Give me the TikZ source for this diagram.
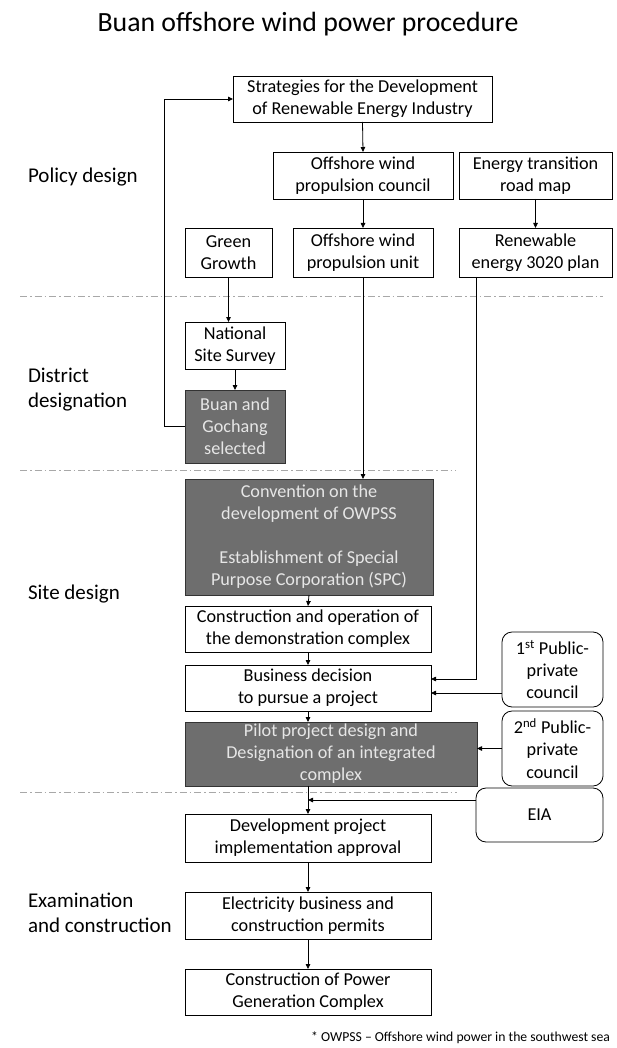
\documentclass[tikz,border=0pt]{standalone}
\usepackage{fontspec}
\setmainfont{Carlito}
\usetikzlibrary{arrows.meta,positioning}
\definecolor{boxgray}{HTML}{6E6E6E}
\definecolor{boxtext}{HTML}{E6E6E6}
\definecolor{sepgray}{HTML}{A8A8A8}
\tikzset{
  every node/.style={inner sep=0pt, outer sep=0pt},
  plainbox/.style={draw=black, line width=0.8pt, fill=white, align=center,
    font=\fontsize{18.2}{22}\selectfont},
  darkbox/.style={plainbox, fill=boxgray, draw=black!80, text=boxtext},
  roundbox/.style={plainbox, rounded corners=10pt},
  phase/.style={anchor=base west, align=left, font=\fontsize{21}{25}\selectfont},
  conn/.style={line width=0.8pt, -{Triangle[length=5pt,width=4.5pt]}},
  sepline/.style={draw=sepgray, line width=0.8pt, dash pattern=on 7pt off 3pt on 1.5pt off 3pt},
}
\begin{document}
\begin{tikzpicture}[x=1pt,y=-1pt]
\useasboundingbox (0,0) rectangle (617,1048);
% title
\node[anchor=base, font=\fontsize{27.8}{32}\selectfont] (title) at (308,32) {Buan offshore wind power procedure};
% phase labels (base = baseline of last line)
\node[phase] (ph1) at (28,183) {Policy design};
\node[phase] (ph2) at (28,407) {District\\designation};
\node[phase] (ph3) at (28,599) {Site design};
\node[phase] (ph4) at (28,932) {Examination\\and construction};
% separators
\draw[sepline] (20,296) -- (603,296);
\draw[sepline] (20,470) -- (456,470);
\draw[sepline] (20,792) -- (457,792);
% boxes
\node[plainbox, minimum width=259, minimum height=46] (strat) at (362.5,99) {Strategies for the Development\\of Renewable Energy Industry};
\node[plainbox, minimum width=180, minimum height=47] (council) at (363,175.5) {Offshore wind\\propulsion council};
\node[plainbox, minimum width=153, minimum height=47] (roadmap) at (535.5,175.5) {Energy transition\\road map};
\node[plainbox, minimum width=87, minimum height=49] (green) at (228.5,252.5) {Green\\Growth};
\node[plainbox, minimum width=140, minimum height=49] (unit) at (363,252.5) {Offshore wind\\propulsion unit};
\node[plainbox, minimum width=153, minimum height=49] (ren) at (535.5,252.5) {Renewable\\energy 3020 plan};
\node[plainbox, minimum width=100, minimum height=47] (survey) at (235,345.5) {National\\Site Survey};
\node[darkbox, minimum width=100, minimum height=73] (buan) at (235,426.5) {Buan and\\Gochang\\selected};
\node[darkbox, minimum width=248, minimum height=116] (conv) at (309,537) {Convention on the\\development of OWPSS\\[22pt]Establishment of Special\\Purpose Corporation (SPC)};
\node[plainbox, minimum width=246, minimum height=46] (demo) at (308,629) {Construction and operation of\\the demonstration complex};
\node[plainbox, minimum width=246, minimum height=46] (biz) at (308,688) {Business decision\\to pursue a project};
\node[darkbox, minimum width=292, minimum height=64] (pilot) at (331,754) {Pilot project design and\\Designation of an integrated\\complex};
\node[roundbox, minimum width=101, minimum height=75] (pub1) at (552.5,669.5) {1\textsuperscript{st} Public-\\private\\council};
\node[roundbox, minimum width=101, minimum height=75] (pub2) at (552.5,748.5) {2\textsuperscript{nd} Public-\\private\\council};
\node[roundbox, minimum width=127, minimum height=54] (eia) at (539.5,815) {EIA};
\node[plainbox, minimum width=246, minimum height=48] (dev) at (308,838) {Development project\\implementation approval};
\node[plainbox, minimum width=246, minimum height=47] (elec) at (308,915.5) {Electricity business and\\construction permits};
\node[plainbox, minimum width=246, minimum height=46] (cons) at (308,992) {Construction of Power\\Generation Complex};
% footnote
\node[anchor=base east, font=\fontsize{13.7}{16}\selectfont] (note) at (610,1041) {* OWPSS -- Offshore wind power in the southwest sea};
% connectors
\draw[conn] (strat.south) -- (council.north);
\draw[conn] (council.south) -- (unit.north);
\draw[conn] (roadmap.south) -- (ren.north);
\draw[conn] (green.south) -- (green.south |- survey.north);
\draw[conn] (survey.south) -- (buan.north);
\draw[conn] (buan.west) -| (164,99) -- (strat.west);
\draw[conn] (unit.south) -- (unit.south |- conv.north);
\draw[conn] (conv.south) -- (demo.north);
\draw[conn] (demo.south) -- (biz.north);
\coordinate (renfoot) at ([xshift=-59.5pt]ren.south);
\coordinate (bizin) at ([yshift=9pt]biz.east);
\draw[conn] (renfoot) |- (bizin);
\coordinate (p1out) at ([yshift=-23.5pt]pub1.west);
\draw[conn] (p1out) -- (p1out -| biz.east);
\draw[conn] (pub2.west) -- (pub2.west -| pilot.east);
\draw[conn] (biz.south) -- (biz.south |- pilot.north);
\draw[conn] (dev.north |- pilot.south) -- (dev.north);
\coordinate (eout) at ([yshift=15pt]eia.west);
\draw[conn] (eout) -- (eout -| dev.north);
\draw[conn] (dev.south) -- (elec.north);
\draw[conn] (elec.south) -- (cons.north);
\end{tikzpicture}
\end{document}
